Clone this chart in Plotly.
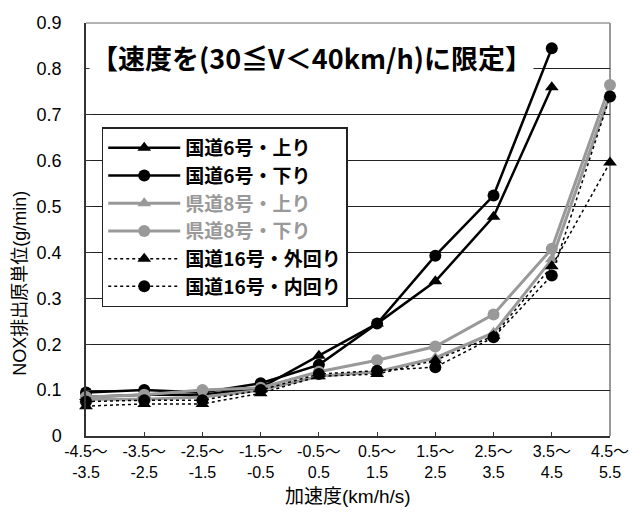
import plotly.graph_objects as go

categories = ["-4.5～<br>-3.5", "-3.5～<br>-2.5", "-2.5～<br>-1.5", "-1.5～<br>-0.5", "-0.5～<br>0.5",
              "0.5～<br>1.5", "1.5～<br>2.5", "2.5～<br>3.5", "3.5～<br>4.5", "4.5～<br>5.5"]
x_pos = list(range(len(categories)))

r6_up = [0.085, 0.090, 0.090, 0.105, 0.175, 0.245, 0.337, 0.478, 0.760, None]
r6_down = [0.095, 0.100, 0.095, 0.115, 0.155, 0.245, 0.393, 0.524, 0.845, None]
p8_up = [0.080, 0.080, 0.085, 0.100, 0.130, 0.140, 0.170, 0.225, 0.385, 0.745]
p8_down = [0.085, 0.090, 0.100, 0.105, 0.140, 0.165, 0.195, 0.265, 0.408, 0.765]
r16_out = [0.065, 0.070, 0.070, 0.093, 0.130, 0.135, 0.165, 0.218, 0.370, 0.596]
r16_in = [0.075, 0.078, 0.078, 0.100, 0.135, 0.142, 0.150, 0.215, 0.350, 0.740]

y_ticks = [0, 0.1, 0.2, 0.3, 0.4, 0.5, 0.6, 0.7, 0.8, 0.9]
y_ticktext = ["0", "0.1", "0.2", "0.3", "0.4", "0.5", "0.6", "0.7", "0.8", "0.9"]

GRAY = "#999999"
CJK = "Noto Sans CJK JP"

series = [
    ("国道6号・上り", r6_up, "black", "solid", 2.5, "triangle-up"),
    ("国道6号・下り", r6_down, "black", "solid", 2.5, "circle"),
    ("<span style='color:#999999'>県道8号・上り</span>", p8_up, GRAY, "solid", 3, "triangle-up"),
    ("<span style='color:#999999'>県道8号・下り</span>", p8_down, GRAY, "solid", 3, "circle"),
    ("国道16号・外回り", r16_out, "black", "dot", 1.5, "triangle-up"),
    ("国道16号・内回り", r16_in, "black", "dot", 1.5, "circle"),
]

fig = go.Figure()
for i, (name, ys, color, dash, width, sym) in enumerate(series):
    fig.add_trace(go.Scatter(
        x=x_pos, y=ys, name=name, mode="lines+markers",
        line=dict(color=color, dash=dash, width=width),
        marker=dict(symbol=sym, size=12, color=color),
        cliponaxis=False, legendgroup=f"g{i}", connectgaps=False,
    ))

# page body has an 8px margin, so the figure is sized to fill the rest of the window
fig.update_layout(
    width=634, height=510,
    margin=dict(l=78, r=32, t=5, b=81.5),
    paper_bgcolor="white", plot_bgcolor="white",
    showlegend=True,
    legend=dict(
        x=0.03, y=0.747, xanchor="left", yanchor="top",
        bgcolor="white", bordercolor="#222222", borderwidth=1.5,
        font=dict(family=CJK, size=19, color="black", weight="bold"),
        itemwidth=72, tracegroupgap=0, traceorder="grouped",
    ),
    xaxis=dict(
        range=[0, 9], tickmode="array", tickvals=x_pos, ticktext=categories,
        showgrid=False, zeroline=False, showline=True, linecolor="#333333", linewidth=2,
        ticks="inside", ticklen=4, tickcolor="#333333", ticklabelstandoff=0,
        tickfont=dict(family="Liberation Sans, " + CJK, size=16, color="black"),
    ),
    yaxis=dict(
        range=[0, 0.9], tickmode="array", tickvals=y_ticks, ticktext=y_ticktext,
        showgrid=True, gridcolor="#222222", gridwidth=1, zeroline=False,
        showline=True, linecolor="#333333", linewidth=1.5,
        ticks="inside", ticklen=5, tickcolor="#333333", ticklabelstandoff=19,
        ticklabeloverflow="allow",
        tickfont=dict(family="Liberation Sans", size=18, color="black"),
    ),
    shapes=[
        dict(type="line", xref="x domain", yref="y domain", x0=0, x1=1, y0=1, y1=1,
             line=dict(color=GRAY, width=1.5), layer="below"),
        dict(type="line", xref="x domain", yref="y domain", x0=1, x1=1, y0=0, y1=1,
             line=dict(color=GRAY, width=2), layer="below"),
    ],
    annotations=[
        dict(text="<b>【速度を(30≦V＜40km/h)に限定】</b>", xref="paper", yref="paper",
             x=0.43, y=0.916, xanchor="center", yanchor="middle", showarrow=False,
             bgcolor="white", font=dict(family=CJK, size=27, color="black")),
        dict(text="NOX排出原単位(g/min)", xref="paper", yref="paper",
             x=-0.125, y=0.37, xanchor="center", yanchor="middle", showarrow=False,
             textangle=-90, font=dict(family="Liberation Sans, " + CJK, size=18, color="black")),
        dict(text="加速度(km/h/s)", xref="paper", yref="paper",
             x=0.5, y=-0.147, xanchor="center", yanchor="middle", showarrow=False,
             font=dict(family="Liberation Sans, " + CJK, size=19, color="black")),
    ],
)

fig.write_html("out.html")
